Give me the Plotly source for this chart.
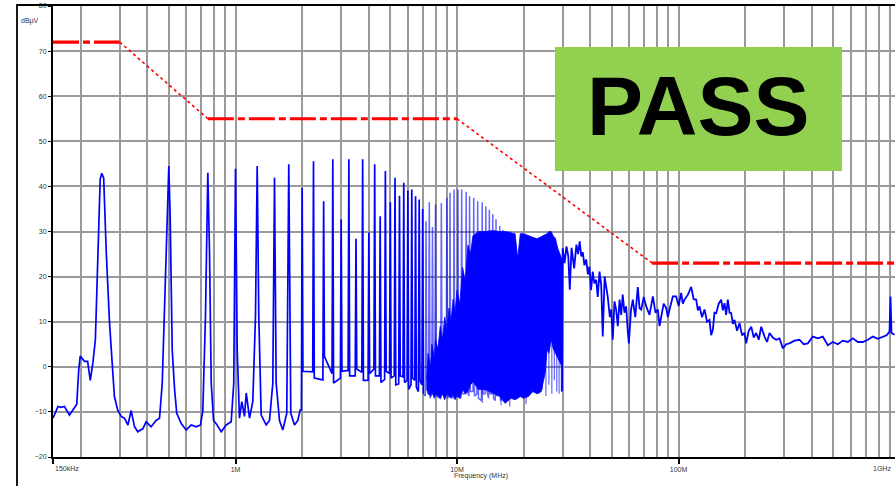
import math
import plotly.graph_objects as go

# ---------------- data ----------------
# low-frequency part of the measured trace (MHz, dBuV)
f_lo = [0.150, 0.158, 0.163, 0.169, 0.178, 0.188, 0.192, 0.196, 0.199, 0.208, 0.215, 0.221,
        0.227, 0.233, 0.239, 0.245, 0.249, 0.254, 0.261, 0.270, 0.284, 0.294, 0.305, 0.315,
        0.327, 0.338, 0.350, 0.362, 0.382, 0.395, 0.416, 0.438, 0.454, 0.467, 0.482, 0.495,
        0.500, 0.507, 0.518, 0.531, 0.543, 0.569, 0.599, 0.631, 0.665, 0.695, 0.712, 0.732,
        0.750, 0.763, 0.777, 0.796, 0.818, 0.862, 0.908, 0.956, 0.982, 1.000, 1.018, 1.042,
        1.068, 1.098, 1.118, 1.157, 1.197, 1.231, 1.253, 1.274, 1.306, 1.376, 1.424, 1.474,
        1.500, 1.526, 1.580, 1.635, 1.704, 1.740, 1.777, 1.846, 1.911, 1.959]
v_lo = [-11.4, -8.8, -9.0, -8.8, -10.7, -8.8, -8.3, -0.7, 2.4, 1.2, 1.2, -3.0,
        0.8, 6.0, 26.0, 41.6, 42.9, 41.9, 25.3, 9.7, -6.6, -9.6, -11.0, -11.4,
        -12.9, -9.7, -13.3, -14.4, -13.7, -12.2, -13.3, -11.9, -11.4, -3.6, 18.6, 40.8,
        44.5, 33.4, 3.8, -5.1, -10.3, -12.6, -14.0, -12.9, -13.3, -12.9, -9.7, 11.2,
        43.0, 26.0, -3.6, -11.9, -12.6, -14.4, -12.9, -12.2, -3.6, 43.9, 3.8, -11.4,
        -7.7, -11.0, -5.8, -11.4, -7.7, 11.2, 44.5, 11.2, -10.7, -12.9, -11.9, -3.6,
        41.9, -3.6, -11.9, -14.0, -10.3, 44.9, -10.3, -12.9, -11.9, -9.6]

# harmonic lines 2 MHz .. 17 MHz: frequency, level before, peak, level after
harm_f = [2.0, 2.25, 2.5, 2.75, 3.0, 3.25, 3.5, 3.75, 4.0, 4.25, 4.5, 4.75, 5.0, 5.25, 5.5,
          5.75, 6.0, 6.25, 6.5, 6.75, 7.0, 7.25, 7.5, 7.75, 8.0, 8.5, 9.0, 9.3, 9.7, 10.1,
          10.5, 11.0, 11.4, 11.9, 12.4, 13.0, 13.5, 14.0, 14.5, 15.0, 15.6, 16.1, 17.3]
harm_pre = [-9.6, -1.1, -2.9, -1.5, -2.5, -0.8, -2.0, -1.2, -3.0, -0.5, -2.0, -2.8, -1.5,
            -2.0, -3.8, -2.2, -3.0, -4.0, -3.0, -5.5, -4.0, -6.5, -5.0, -6.0, -5.5, -7.0,
            -5.5, -6.5, -7.0, -5.5, -7.0, -6.0, -6.5, -5.5, -6.0, -7.5, -6.0, -7.0, -6.0,
            -7.5, -6.0, -7.0, -6.5]
harm_pk = [39.7, 45.6, 36.7, 46.0, 32.7, 46.0, 28.4, 46.0, 29.8, 44.9, 33.4, 43.4, 36.5,
           41.9, 37.9, 40.8, 39.1, 39.3, 37.8, 37.1, 35.0, 32.3, 36.5, 31.0, 36.0, 36.3,
           37.5, 38.6, 39.3, 39.3, 39.3, 38.8, 37.8, 37.5, 36.7, 36.5, 35.6, 34.8, 33.8,
           32.7, 31.2, 30.4, 30.0]
harm_fl = [-1.0, -2.5, 2.3, -3.6, -1.0, -2.0, -0.5, -3.0, -1.5, -2.0, -3.5, -1.0, -2.5,
           -4.0, -2.0, -3.5, -5.0, -2.5, -4.5, -3.0, -6.0, -5.0, -7.0, -4.0, -6.5, -6.0,
           -7.0, -6.0, -5.5, -6.5, -6.0, -5.0, -5.5, -6.5, -7.0, -6.0, -5.0, -6.0, -7.0,
           -6.5, -7.5, -6.0, -6.0]

# dense band 7 MHz .. 30 MHz: upper and lower envelope
mass_f = [7.3, 7.4, 7.6, 7.7, 7.9, 8.0, 8.2, 8.4, 8.6, 8.8, 9.0, 9.2, 9.4, 9.6, 9.8, 10.0,
          10.3, 10.6, 10.9, 11.2, 11.5, 11.8, 12.5, 13.5, 14.5, 15.5, 16.5, 17.5, 18.3,
          18.8, 19.3, 20.0, 21.0, 22.0, 23.0, 24.0, 25.0, 25.5, 26.0, 26.6, 27.2, 27.8,
          28.5, 29.2, 29.8]
mass_top = [-3.0, 3.0, 0.0, 5.0, 2.0, 6.0, 4.0, 9.0, 6.0, 11.0, 8.0, 13.0, 10.0, 15.0,
            12.0, 17.0, 14.0, 22.0, 19.0, 27.0, 25.0, 29.0, 30.0, 30.0, 30.2, 30.0, 30.0,
            29.8, 29.5, 24.0, 29.5, 29.5, 29.0, 28.7, 28.4, 28.8, 29.2, 29.5, 30.0, 30.0,
            29.0, 28.5, 26.3, 25.0, 23.8]
mass_bot = [-5.0, -6.0, -6.5, -5.5, -7.0, -6.0, -6.5, -7.0, -6.0, -7.3, -6.0, -6.5, -7.0,
            -6.0, -7.3, -6.5, -7.0, -5.0, -6.0, -5.5, -4.0, -3.3, -5.0, -5.1, -5.8, -6.5,
            -8.1, -7.0, -7.3, -7.0, -6.6, -7.0, -6.6, -5.5, -6.0, -5.5, -1.4, 3.8, 3.0,
            5.9, 4.0, 3.0, 2.0, 1.0, 0.0]
# single lines reaching below the dense band
drop_f = [13.0, 15.8, 17.3, 20.5, 23.5, 24.3, 25.2, 26.0, 26.8, 27.5, 28.2, 28.9, 29.6]
drop_v = [-8.0, -8.5, -8.8, -8.3, -6.0, -5.0, -6.5, -4.0, -6.0, -3.0, -5.5, -6.0, -5.5]

# high-frequency part of the trace
f_hi = [29.8, 30.0, 30.6, 31.2, 31.8, 32.3, 32.9, 33.8, 34.6, 35.2, 35.8, 36.4, 37.0, 37.6,
        38.3, 39.0, 39.6, 40.3, 41.0, 41.7, 42.5, 43.2, 44.0, 44.8, 45.5, 46.4, 47.9, 49.0,
        49.7, 50.5, 51.4, 52.3, 53.2, 54.2, 55.1, 56.0, 57.0, 58.0, 59.0, 59.7, 61.0, 62.2,
        63.8, 65.5, 66.7, 67.9, 69.7, 71.5, 74.0, 76.6, 78.7, 80.7, 82.1, 83.5, 85.7, 88.0,
        89.5, 91.1, 94.3, 97.6, 100.2, 102.8, 104.6, 106.5, 110.3, 114.1, 117.1, 120.2,
        122.3, 124.4, 127.7, 131.1, 134.5, 138.0, 140.4, 142.9, 145.4, 148.0, 151.9, 155.9,
        158.6, 161.3, 164.1, 167.0, 170.0, 173.0, 176.0, 179.0, 183.8, 188.6, 193.6, 198.6,
        202.1, 207.5, 213.0, 218.6, 224.3, 230.3, 236.3, 244.5, 251.0, 257.6, 266.7, 276.1,
        285.8, 295.8, 306.3, 317.0, 334.0, 351.9, 367.5, 383.6, 404.0, 425.6, 448.3, 472.1,
        497.4, 524.0, 551.9, 581.5, 612.4, 645.0, 679.3, 716.0, 753.9, 794.0, 836.5, 870.0,
        896.8, 906.0, 915.5, 945.0]
v_hi = [-5.5, 26.3, 23.0, 26.7, 24.5, 17.1, 26.4, 21.8, 27.1, 25.0, 27.8, 24.5, 25.4, 22.5,
        23.8, 20.5, 22.2, 17.0, 21.1, 18.5, 19.3, 15.5, 21.1, 18.0, 6.7, 20.0, 15.6, 11.0,
        12.7, 6.0, 14.5, 12.7, 9.0, 14.9, 11.5, 16.0, 12.0, 13.4, 8.0, 5.2, 12.5, 14.9,
        11.0, 17.7, 13.0, 12.7, 15.5, 13.4, 11.5, 15.6, 12.0, 12.7, 9.0, 11.2, 14.0, 13.0,
        11.0, 12.7, 15.6, 15.6, 13.5, 16.4, 14.0, 14.9, 16.0, 17.7, 15.0, 14.9,
        12.5, 13.4, 11.0, 12.7, 10.0, 10.4, 7.0, 8.2, 12.0, 11.9, 14.0, 14.9,
        12.5, 14.1, 11.5, 14.9, 12.0, 11.9, 9.5, 10.4, 8.0, 9.7, 7.0, 7.5,
        5.2, 8.0, 8.9, 6.5, 7.5, 6.0, 8.9, 6.7, 5.5, 7.5, 6.5, 6.0,
        6.3, 4.1, 5.0, 5.2, 5.8, 6.0, 5.0, 5.2, 6.7, 6.3, 6.7, 4.8,
        5.5, 5.0, 5.8, 5.5, 6.3, 5.5, 5.5, 6.0, 6.7, 6.2, 6.7, 7.0,
        7.8, 15.6, 7.5, 7.1]

# limit line
lim_f = [0.15, 0.30, 0.75, 10.0, 76.0, 1000.0]
lim_v = [72, 72, 55, 55, 23, 23]

# axis ticks
x_major = [0.15, 1, 10, 100]
x_major_text = ["", "1M", "10M", "100M"]
x_grid = [0.2, 0.3, 0.4, 0.5, 0.6, 0.7, 0.8, 0.9,
          2, 3, 4, 5, 6, 7, 8, 9,
          20, 30, 40, 50, 60, 70, 80, 90,
          200, 300, 400, 500, 600, 700, 800, 900]
y_ticks = [-20, -10, 0, 10, 20, 30, 40, 50, 60, 70, 80]

# ---------------- drawing ----------------
W, H = 895, 486
ML, MR, MT, MB = 53, 0, 6, 29
PW, PH = W - ML - MR, H - MT - MB
DECADE_PX = 221.5
x0 = math.log10(0.15)
x1 = x0 + PW / DECADE_PX

def px2paper(px, py):
    return (px - ML) / PW, (H - MB - py) / PH

BLUE = "#0000FF"
RED = "#FF0000"
W_SPK = 0.008

fig = go.Figure()

# dense band
fig.add_trace(go.Scatter(
    x=mass_f + mass_f[::-1], y=mass_top + mass_bot[::-1],
    fill="toself", fillcolor=BLUE, mode="lines", line=dict(color=BLUE, width=0.8),
    hoverinfo="skip", showlegend=False))

# drops below dense band
dx, dy = [], []
for f, v in zip(drop_f, drop_v):
    dx += [f, f, None]
    dy += [5, v, None]
fig.add_trace(go.Scatter(x=dx, y=dy, mode="lines", line=dict(color=BLUE, width=1.2),
                         opacity=0.6, hoverinfo="skip", showlegend=False))

# harmonic spikes
def spikes(idx):
    xs, ys = [], []
    for i in idx:
        f = harm_f[i]
        xs += [f * (1 - W_SPK), f, f * (1 + W_SPK)]
        ys += [harm_pre[i], harm_pk[i], harm_fl[i]]
    return xs, ys

dark = [i for i, f in enumerate(harm_f) if f < 7.1]
light = [i for i, f in enumerate(harm_f) if f >= 7.1]
sx, sy = spikes(dark)
fig.add_trace(go.Scatter(x=f_lo + sx, y=v_lo + sy, mode="lines",
                         line=dict(color=BLUE, width=1.7), hoverinfo="skip", showlegend=False))
lx, ly = spikes(light)
fig.add_trace(go.Scatter(x=[sx[-1]] + lx, y=[sy[-1]] + ly, mode="lines",
                         line=dict(color=BLUE, width=1.5), opacity=0.6,
                         hoverinfo="skip", showlegend=False))

# high frequency part
fig.add_trace(go.Scatter(x=f_hi, y=v_hi, mode="lines", line=dict(color=BLUE, width=1.8),
                         hoverinfo="skip", showlegend=False))

# limit line
for i in range(len(lim_f) - 1):
    flat = lim_v[i] == lim_v[i + 1]
    fig.add_trace(go.Scatter(
        x=lim_f[i:i + 2], y=lim_v[i:i + 2], mode="lines",
        line=dict(color=RED, width=3.2 if flat else 1.6,
                  dash="26px,4px,7px,4px" if flat else "dot"),
        hoverinfo="skip", showlegend=False))

tick_font = dict(family="Liberation Sans, Arial, sans-serif", size=7, color="#333333")

fig.update_layout(
    width=W, height=H,
    margin=dict(l=ML, r=MR, t=MT, b=MB, pad=0),
    paper_bgcolor="white", plot_bgcolor="white",
    showlegend=False,
    xaxis=dict(type="log", range=[x0, x1], tickvals=x_major, ticktext=x_major_text,
               showgrid=True, gridcolor="#9a9a9a", gridwidth=1.5,
               ticks="outside", ticklen=5, tickwidth=1.5, tickcolor="black",
               showline=True, linecolor="black", linewidth=2,
               tickfont=tick_font, zeroline=False,
               minor=dict(tickvals=x_grid, showgrid=True, gridcolor="#9a9a9a",
                          gridwidth=1.5, ticks="")),
    yaxis=dict(range=[-20, 80], tickvals=y_ticks, showgrid=True, gridcolor="#9a9a9a",
               gridwidth=1.5, ticks="outside", ticklen=3, tickwidth=1.2,
               tickcolor="black", showline=True, linecolor="black", linewidth=2,
               tickfont=tick_font, zeroline=False),
)

# outer frame (left and top edges of the page box)
fx, fy_top = px2paper(17, 5)
_, fy_bot = px2paper(17, 490)
rx, _ = px2paper(900, 5)
fig.add_shape(type="path", xref="paper", yref="paper",
              path=f"M {fx} {fy_bot} L {fx} {fy_top} L {rx} {fy_top}",
              line=dict(color="black", width=1.8))

# PASS box
bx0, by0 = px2paper(555, 171)
bx1, by1 = px2paper(842, 47)
fig.add_shape(type="rect", xref="paper", yref="paper", x0=bx0, y0=by0, x1=bx1, y1=by1,
              fillcolor="#92D050", line=dict(width=0), layer="above")
cx, cy = px2paper(698, 106)
fig.add_annotation(xref="paper", yref="paper", x=cx, y=cy, text="<b>PASS</b>",
                   showarrow=False, xanchor="center", yanchor="middle",
                   font=dict(family="Liberation Sans, Arial, sans-serif", size=84,
                             color="black"))

# axis texts
ax_, ay_ = px2paper(19, 21)
fig.add_annotation(xref="paper", yref="paper", x=ax_, y=ay_, text="dBµV", showarrow=False,
                   xanchor="left", yanchor="middle", font=tick_font)
ax_, ay_ = px2paper(53, 468)
fig.add_annotation(xref="paper", yref="paper", x=ax_, y=ay_, text="150kHz", showarrow=False,
                   xanchor="left", yanchor="middle", font=tick_font)
ax_, ay_ = px2paper(893, 468)
fig.add_annotation(xref="paper", yref="paper", x=ax_, y=ay_, text="1GHz", showarrow=False,
                   xanchor="right", yanchor="middle", font=tick_font)
ax_, ay_ = px2paper(452, 476)
fig.add_annotation(xref="paper", yref="paper", x=ax_, y=ay_, text="Frequency (MHz)",
                   showarrow=False, xanchor="left", yanchor="middle", font=tick_font)

fig.write_html("out.html", config={"displayModeBar": False},
               post_script="document.body.style.margin='0';document.body.style.padding='0';")
